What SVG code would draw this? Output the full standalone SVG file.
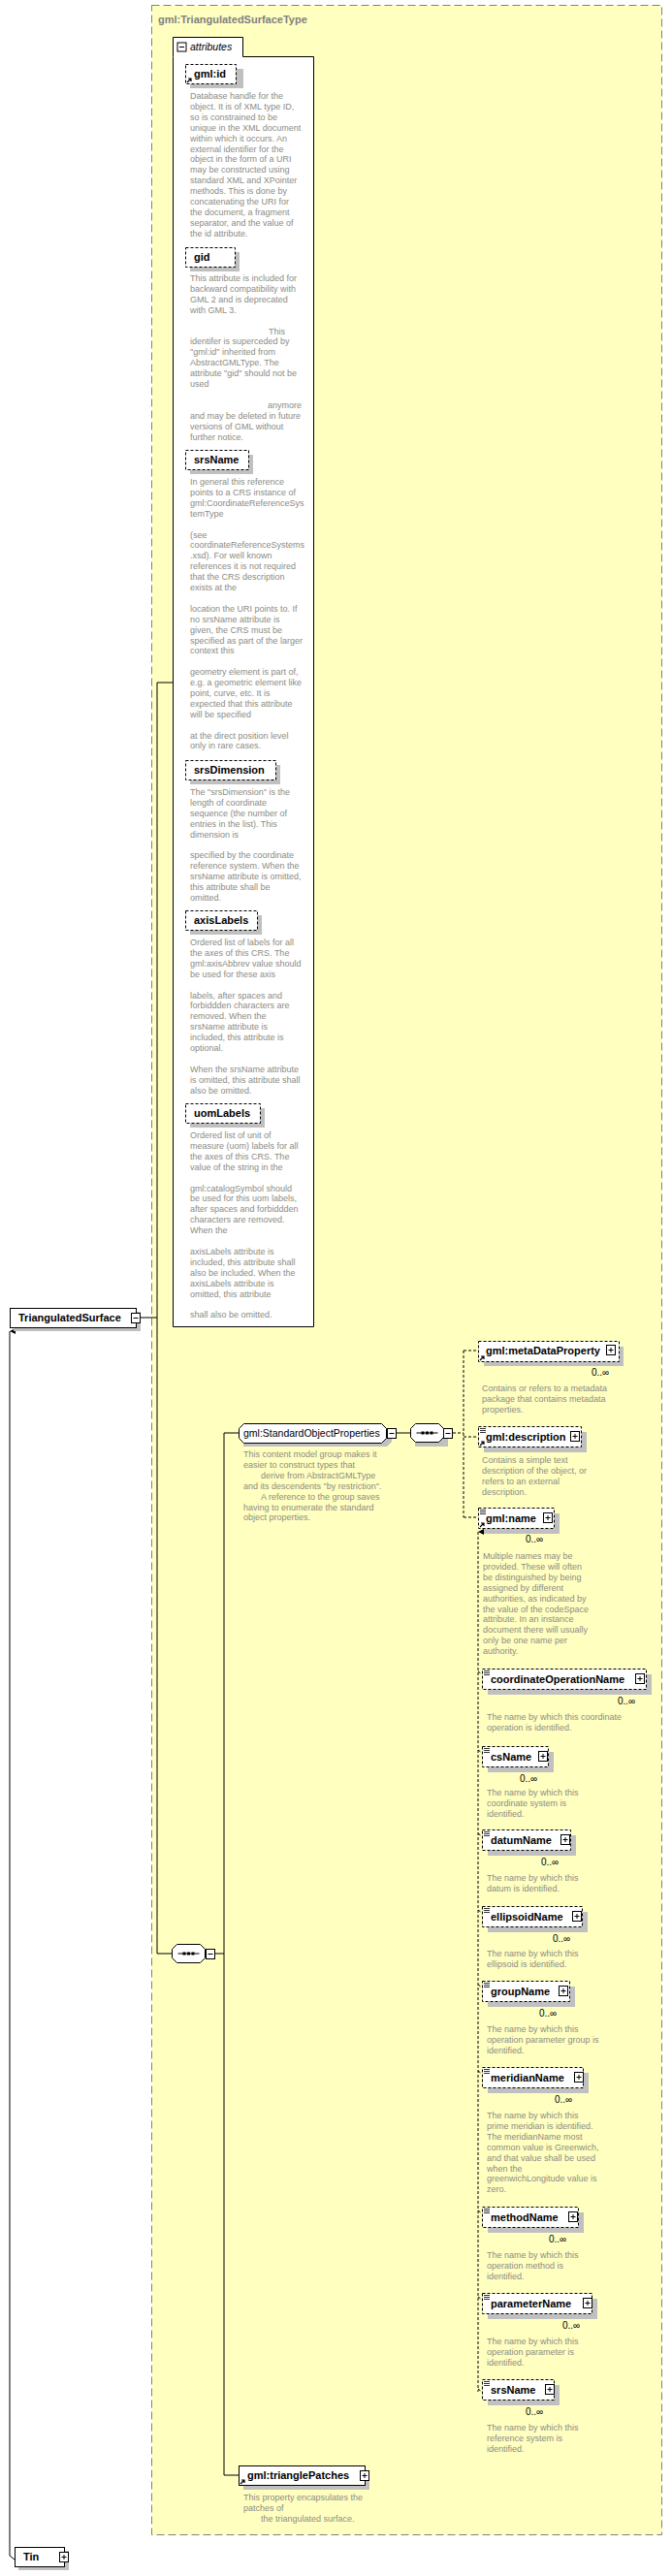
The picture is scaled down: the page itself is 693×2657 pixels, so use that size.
<svg xmlns="http://www.w3.org/2000/svg" width="693" height="2657" viewBox="0 0 693 2657">
<style>
text{font-family:"Liberation Sans",Arial,sans-serif}
.t{font-size:11px;font-weight:bold;fill:#000}
.g{font-size:10.5px;fill:#000}
.d{font-size:9px;fill:#8c8c84}
.o{font-size:10px;fill:#000}
.box{fill:#fff;stroke:#000;stroke-width:1}
.opt{fill:#fff;stroke:#000;stroke-width:1;stroke-dasharray:3,2}
.sh{fill:#c0c0c0}
.ln{stroke:#000;stroke-width:1;fill:none}
.dl{stroke:#000;stroke-width:1;fill:none;stroke-dasharray:3,2}
.pm{fill:#fff;stroke:#000;stroke-width:1}
</style>
<defs>
<marker id="up" markerWidth="6" markerHeight="6" refX="3" refY="0" orient="auto-start-reverse" markerUnits="userSpaceOnUse"><path d="M0,6 L3,0 L6,6 Z" fill="#000"/></marker>
<g id="plus"><rect class="pm" x="0" y="0" width="9" height="10"/><path d="M2,5H7M4.5,2.5V7.5" stroke="#000"/></g>
<g id="minus"><rect class="pm" x="0" y="0" width="9" height="10"/><path d="M2,5H7" stroke="#000"/></g>
<g id="ref"><path d="M0,5 L4,1 M1,1 H4 V4" stroke="#000" stroke-width="1.2" fill="none"/></g>
<g id="subst"><path d="M0,0.5H6M0,2.5H6M0,4.5H6" stroke="#000" stroke-width="0.8"/></g>
<g id="seq"><path class="box" d="M5,0H29L34,5V14L29,19H5L0,14V5Z"/><path d="M6,9.5H28" stroke="#000"/><rect x="11" y="8" width="3" height="3"/><rect x="15.5" y="8" width="3" height="3"/><rect x="20" y="8" width="3" height="3"/></g>
</defs>

<rect x="156.5" y="5.5" width="526" height="2609" fill="#ffffc0" stroke="#808080" stroke-dasharray="8,4"/>
<text x="163" y="24" style="font-size:11px;font-weight:bold;fill:#808080">gml:TriangulatedSurfaceType</text>

<g id="connectors">
<path class="ln" d="M145,1359H162M162,704V2015M162,704H178M162,2015H177M222,2015H231M231,1478V2553M231,1478H246M231,2553H246M408,1478H423"/>
<path class="dl" d="M467,1478H478M478,1393V1565M478,1393H493M478,1482H493M478,1565H493"/>
<path class="dl" d="M493,1580V2467" marker-start="url(#up)"/>
<path class="dl" d="M493,1724L497,1727M493,1805L497,1808M493,1891L497,1894M493,1970L497,1973M493,2047L497,2050M493,2136L497,2139M493,2280L497,2283M493,2369L497,2372M493,2464L497,2467"/>
<path class="ln" d="M10,1373V2636L15,2640" marker-start="url(#up)"/>
</g>

<g id="attributes">
<path class="box" d="M178.5,58.5V38.5H250.5V58.5H323.5V1368.5H178.5Z"/>
<rect x="183" y="44" width="9" height="9" class="pm"/><path d="M185,48.5H190" stroke="#000"/>
<text x="196" y="52" style="font-size:10.5px;font-style:italic">attributes</text>

<g id="attr-gmlid"><rect class="sh" x="196" y="71" width="55" height="20"/><rect class="opt" x="191.5" y="66.5" width="52" height="20"/><use href="#ref" x="193" y="80"/><text class="t" x="200" y="80">gml:id</text>
<text class="d"><tspan x="196" y="102">Database handle for the</tspan><tspan x="196" dy="10.9">object.  It is of XML type ID,</tspan><tspan x="196" dy="10.9">so is constrained to be</tspan><tspan x="196" dy="10.9">unique in the XML document</tspan><tspan x="196" dy="10.9">within which it occurs.  An</tspan><tspan x="196" dy="10.9">external identifier for the</tspan><tspan x="196" dy="10.9">object in the form of a URI</tspan><tspan x="196" dy="10.9">may be constructed using</tspan><tspan x="196" dy="10.9">standard XML and XPointer</tspan><tspan x="196" dy="10.9">methods.  This is done by</tspan><tspan x="196" dy="10.9">concatenating the URI for</tspan><tspan x="196" dy="10.9">the document, a fragment</tspan><tspan x="196" dy="10.9">separator, and the value of</tspan><tspan x="196" dy="10.9">the id attribute.</tspan></text></g>

<g id="attr-gid"><rect class="sh" x="196" y="260" width="51" height="20"/><rect class="opt" x="191.5" y="255.5" width="51" height="20"/><text class="t" x="200" y="269">gid</text>
<text class="d"><tspan x="196" y="290">This attribute is included for</tspan><tspan x="196" dy="10.9">backward compatibility with</tspan><tspan x="196" dy="10.9">GML 2 and is deprecated</tspan><tspan x="196" dy="10.9">with GML 3.</tspan><tspan x="277" dy="21.8">This</tspan><tspan x="196" dy="10.9">identifer is superceded by</tspan><tspan x="196" dy="10.9">"gml:id" inherited from</tspan><tspan x="196" dy="10.9">AbstractGMLType. The</tspan><tspan x="196" dy="10.9">attribute "gid" should not be</tspan><tspan x="196" dy="10.9">used</tspan><tspan x="276" dy="21.8">anymore</tspan><tspan x="196" dy="10.9">and may be deleted in future</tspan><tspan x="196" dy="10.9">versions of GML without</tspan><tspan x="196" dy="10.9">further notice.</tspan></text></g>

<g id="attr-srsName"><rect class="sh" x="196" y="469" width="65" height="20"/><rect class="opt" x="191.5" y="464.5" width="65" height="20"/><text class="t" x="200" y="478">srsName</text>
<text class="d"><tspan x="196" y="500">In general this reference</tspan><tspan x="196" dy="10.9">points to a CRS instance of</tspan><tspan x="196" dy="10.9">gml:CoordinateReferenceSys</tspan><tspan x="196" dy="10.9">temType</tspan><tspan x="196" dy="21.8">(see</tspan><tspan x="196" dy="10.9">coordinateReferenceSystems</tspan><tspan x="196" dy="10.9">.xsd). For well known</tspan><tspan x="196" dy="10.9">references it is not required</tspan><tspan x="196" dy="10.9">that the CRS description</tspan><tspan x="196" dy="10.9">exists at the</tspan><tspan x="196" dy="21.8">location the URI points to. If</tspan><tspan x="196" dy="10.9">no srsName attribute is</tspan><tspan x="196" dy="10.9">given, the CRS must be</tspan><tspan x="196" dy="10.9">specified as part of the larger</tspan><tspan x="196" dy="10.9">context this</tspan><tspan x="196" dy="21.8">geometry element is part of,</tspan><tspan x="196" dy="10.9">e.g. a geometric element like</tspan><tspan x="196" dy="10.9">point, curve, etc. It is</tspan><tspan x="196" dy="10.9">expected that this attribute</tspan><tspan x="196" dy="10.9">will be specified</tspan><tspan x="196" dy="21.8">at the direct position level</tspan><tspan x="196" dy="10.9">only in rare cases.</tspan></text></g>

<g id="attr-srsDimension"><rect class="sh" x="196" y="789" width="93" height="20"/><rect class="opt" x="191.5" y="784.5" width="93" height="20"/><text class="t" x="200" y="798">srsDimension</text>
<text class="d"><tspan x="196" y="820">The "srsDimension" is the</tspan><tspan x="196" dy="10.9">length of coordinate</tspan><tspan x="196" dy="10.9">sequence (the number of</tspan><tspan x="196" dy="10.9">entries in the list). This</tspan><tspan x="196" dy="10.9">dimension is</tspan><tspan x="196" dy="21.8">specified by the coordinate</tspan><tspan x="196" dy="10.9">reference system. When the</tspan><tspan x="196" dy="10.9">srsName attribute is omitted,</tspan><tspan x="196" dy="10.9">this attribute shall be</tspan><tspan x="196" dy="10.9">omitted.</tspan></text></g>

<g id="attr-axisLabels"><rect class="sh" x="196" y="944" width="74" height="20"/><rect class="opt" x="191.5" y="939.5" width="74" height="20"/><text class="t" x="200" y="953">axisLabels</text>
<text class="d"><tspan x="196" y="975">Ordered list of labels for all</tspan><tspan x="196" dy="10.9">the axes of this CRS. The</tspan><tspan x="196" dy="10.9">gml:axisAbbrev value should</tspan><tspan x="196" dy="10.9">be used for these axis</tspan><tspan x="196" dy="21.8">labels, after spaces and</tspan><tspan x="196" dy="10.9">forbiddden characters are</tspan><tspan x="196" dy="10.9">removed. When the</tspan><tspan x="196" dy="10.9">srsName attribute is</tspan><tspan x="196" dy="10.9">included, this attribute is</tspan><tspan x="196" dy="10.9">optional.</tspan><tspan x="196" dy="21.8">When the srsName attribute</tspan><tspan x="196" dy="10.9">is omitted, this attribute shall</tspan><tspan x="196" dy="10.9">also be omitted.</tspan></text></g>

<g id="attr-uomLabels"><rect class="sh" x="196" y="1143" width="77" height="20"/><rect class="opt" x="191.5" y="1138.5" width="77" height="20"/><text class="t" x="200" y="1152">uomLabels</text>
<text class="d"><tspan x="196" y="1174">Ordered list of unit of</tspan><tspan x="196" dy="10.9">measure (uom) labels for all</tspan><tspan x="196" dy="10.9">the axes of this CRS. The</tspan><tspan x="196" dy="10.9">value of the string in the</tspan><tspan x="196" dy="21.8">gml:catalogSymbol should</tspan><tspan x="196" dy="10.9">be used for this uom labels,</tspan><tspan x="196" dy="10.9">after spaces and forbiddden</tspan><tspan x="196" dy="10.9">characters are removed.</tspan><tspan x="196" dy="10.9">When the</tspan><tspan x="196" dy="21.8">axisLabels attribute is</tspan><tspan x="196" dy="10.9">included, this attribute shall</tspan><tspan x="196" dy="10.9">also be included. When the</tspan><tspan x="196" dy="10.9">axisLabels attribute is</tspan><tspan x="196" dy="10.9">omitted, this attribute</tspan><tspan x="196" dy="21.8">shall also be omitted.</tspan></text></g>
</g>

<g id="TriangulatedSurface"><rect class="sh" x="14" y="1353" width="131" height="20"/><rect class="box" x="10.5" y="1349.5" width="130" height="20"/><text class="t" x="19" y="1363">TriangulatedSurface</text><use href="#minus" x="135.5" y="1354.5"/></g>

<g id="seq-main"><use href="#seq" x="177.5" y="2005.5"/><use href="#minus" x="212.5" y="2010.5"/></g>

<g id="StandardObjectProperties"><path class="sh" d="M251,1473H399L404,1478V1487L399,1492H251L251,1473Z"/><path class="box" d="M251.5,1468.5H393.5L398.5,1473.5V1483.5L393.5,1488.5H251.5L246.5,1483.5V1473.5Z"/><text class="g" x="251" y="1482">gml:StandardObjectProperties</text><use href="#minus" x="399.5" y="1473.5"/>
<text class="d"><tspan x="251" y="1503">This content model group makes it</tspan><tspan x="251" dy="10.9">easier to construct types that</tspan><tspan x="269" dy="10.9">derive from AbstractGMLType</tspan><tspan x="251" dy="10.9">and its descendents "by restriction".</tspan><tspan x="269" dy="10.9">A reference to the group saves</tspan><tspan x="251" dy="10.9">having to enumerate the standard</tspan><tspan x="251" dy="10.9">object properties.</tspan></text></g>

<g id="seq-sop"><path class="sh" d="M428,1473H462V1492H428Z"/><use href="#seq" x="423.5" y="1468.5"/><use href="#minus" x="457.5" y="1473.5"/></g>

<g id="metaDataProperty"><rect class="sh" x="499" y="1389" width="144" height="20"/><rect class="opt" x="493.5" y="1383.5" width="145" height="21"/><use href="#ref" x="495" y="1398"/><text class="t" x="501" y="1397">gml:metaDataProperty</text><use href="#plus" x="625.5" y="1387.5"/><text class="o" x="610" y="1419">0..∞</text>
<text class="d"><tspan x="497" y="1435">Contains or refers to a metadata</tspan><tspan x="497" dy="10.9">package that contains metadata</tspan><tspan x="497" dy="10.9">properties.</tspan></text></g>

<g id="description"><rect class="sh" x="499" y="1477" width="106" height="21"/><rect class="opt" x="493.5" y="1471.5" width="106" height="21"/><use href="#ref" x="495" y="1486"/><use href="#subst" x="495" y="1473"/><text class="t" x="501" y="1486">gml:description</text><use href="#plus" x="588.5" y="1476.5"/>
<text class="d"><tspan x="497" y="1509">Contains a simple text</tspan><tspan x="497" dy="10.9">description of the object, or</tspan><tspan x="497" dy="10.9">refers to an external</tspan><tspan x="497" dy="10.9">description.</tspan></text></g>

<g id="name"><rect class="sh" x="499" y="1561" width="78" height="21"/><rect class="opt" x="493.5" y="1555.5" width="78" height="21"/><use href="#ref" x="495" y="1570"/><use href="#subst" x="495" y="1557"/><text class="t" x="501" y="1570">gml:name</text><use href="#plus" x="560.5" y="1560.5"/><text class="o" x="542" y="1591">0..∞</text>
<text class="d"><tspan x="498" y="1608">Multiple names may be</tspan><tspan x="498" dy="10.9">provided.  These will often</tspan><tspan x="498" dy="10.9">be distinguished by being</tspan><tspan x="498" dy="10.9">assigned by different</tspan><tspan x="498" dy="10.9">authorities, as indicated by</tspan><tspan x="498" dy="10.9">the value of the codeSpace</tspan><tspan x="498" dy="10.9">attribute.  In an instance</tspan><tspan x="498" dy="10.9">document there will usually</tspan><tspan x="498" dy="10.9">only be one name per</tspan><tspan x="498" dy="10.9">authority.</tspan></text></g>

<g id="coordinateOperationName"><rect class="sh" x="503" y="1727" width="169" height="21"/><rect class="opt" x="497.5" y="1721.5" width="169" height="21"/><use href="#subst" x="499" y="1723"/><text class="t" x="506" y="1736">coordinateOperationName</text><use href="#plus" x="655.5" y="1726.5"/><text class="o" x="637" y="1758">0..∞</text>
<text class="d"><tspan x="502" y="1774">The name by which this coordinate</tspan><tspan x="502" dy="10.9">operation is identified.</tspan></text></g>

<g id="csName"><rect class="sh" x="503" y="1807" width="68" height="21"/><rect class="opt" x="497.5" y="1801.5" width="68" height="21"/><use href="#subst" x="499" y="1803"/><text class="t" x="506" y="1816">csName</text><use href="#plus" x="555.5" y="1806.5"/><text class="o" x="536" y="1838">0..∞</text>
<text class="d"><tspan x="502" y="1852">The name by which this</tspan><tspan x="502" dy="10.9">coordinate system is</tspan><tspan x="502" dy="10.9">identified.</tspan></text></g>

<g id="datumName"><rect class="sh" x="503" y="1893" width="91" height="21"/><rect class="opt" x="497.5" y="1887.5" width="91" height="21"/><use href="#subst" x="499" y="1889"/><text class="t" x="506" y="1902">datumName</text><use href="#plus" x="578.5" y="1892.5"/><text class="o" x="558" y="1924">0..∞</text>
<text class="d"><tspan x="502" y="1940">The name by which this</tspan><tspan x="502" dy="10.9">datum is identified.</tspan></text></g>

<g id="ellipsoidName"><rect class="sh" x="503" y="1972" width="103" height="21"/><rect class="opt" x="497.5" y="1966.5" width="103" height="21"/><use href="#subst" x="499" y="1968"/><text class="t" x="506" y="1981">ellipsoidName</text><use href="#plus" x="590.5" y="1971.5"/><text class="o" x="570" y="2003">0..∞</text>
<text class="d"><tspan x="502" y="2018">The name by which this</tspan><tspan x="502" dy="10.9">ellipsoid is identified.</tspan></text></g>

<g id="groupName"><rect class="sh" x="503" y="2049" width="90" height="21"/><rect class="opt" x="497.5" y="2043.5" width="90" height="21"/><use href="#subst" x="499" y="2045"/><text class="t" x="506" y="2058">groupName</text><use href="#plus" x="576.5" y="2048.5"/><text class="o" x="556" y="2080">0..∞</text>
<text class="d"><tspan x="502" y="2096">The name by which this</tspan><tspan x="502" dy="10.9">operation parameter group is</tspan><tspan x="502" dy="10.9">identified.</tspan></text></g>

<g id="meridianName"><rect class="sh" x="503" y="2138" width="104" height="21"/><rect class="opt" x="497.5" y="2132.5" width="104" height="21"/><use href="#subst" x="499" y="2134"/><text class="t" x="506" y="2147">meridianName</text><use href="#plus" x="592.5" y="2137.5"/><text class="o" x="572" y="2169">0..∞</text>
<text class="d"><tspan x="502" y="2185">The name by which this</tspan><tspan x="502" dy="10.9">prime meridian is identified.</tspan><tspan x="502" dy="10.9">The meridianName most</tspan><tspan x="502" dy="10.9">common value is Greenwich,</tspan><tspan x="502" dy="10.9">and that value shall be used</tspan><tspan x="502" dy="10.9">when the</tspan><tspan x="502" dy="10.9">greenwichLongitude value is</tspan><tspan x="502" dy="10.9">zero.</tspan></text></g>

<g id="methodName"><rect class="sh" x="503" y="2282" width="99" height="21"/><rect class="opt" x="497.5" y="2276.5" width="99" height="21"/><use href="#subst" x="499" y="2278"/><text class="t" x="506" y="2291">methodName</text><use href="#plus" x="586.5" y="2281.5"/><text class="o" x="566" y="2313">0..∞</text>
<text class="d"><tspan x="502" y="2329">The name by which this</tspan><tspan x="502" dy="10.9">operation method is</tspan><tspan x="502" dy="10.9">identified.</tspan></text></g>

<g id="parameterName"><rect class="sh" x="503" y="2371" width="113" height="21"/><rect class="opt" x="497.5" y="2365.5" width="113" height="21"/><use href="#subst" x="499" y="2367"/><text class="t" x="506" y="2380">parameterName</text><use href="#plus" x="601.5" y="2370.5"/><text class="o" x="580" y="2402">0..∞</text>
<text class="d"><tspan x="502" y="2418">The name by which this</tspan><tspan x="502" dy="10.9">operation parameter is</tspan><tspan x="502" dy="10.9">identified.</tspan></text></g>

<g id="srsName"><rect class="sh" x="503" y="2460" width="74" height="21"/><rect class="opt" x="497.5" y="2454.5" width="74" height="21"/><use href="#subst" x="499" y="2456"/><text class="t" x="506" y="2469">srsName</text><use href="#plus" x="562.5" y="2459.5"/><text class="o" x="542" y="2491">0..∞</text>
<text class="d"><tspan x="502" y="2507">The name by which this</tspan><tspan x="502" dy="10.9">reference system is</tspan><tspan x="502" dy="10.9">identified.</tspan></text></g>

<g id="trianglePatches"><rect class="sh" x="251" y="2548" width="130" height="20"/><rect class="box" x="246.5" y="2543.5" width="130" height="20"/><use href="#ref" x="248" y="2557"/><text class="t" x="255" y="2557">gml:trianglePatches</text><use href="#plus" x="371.5" y="2548.5"/>
<text class="d"><tspan x="251" y="2579">This property encapsulates the</tspan><tspan x="251" dy="10.9">patches of</tspan><tspan x="269" dy="10.9">the triangulated surface.</tspan></text></g>

<g id="Tin"><rect class="sh" x="19" y="2631" width="52" height="20"/><rect class="box" x="15.5" y="2627.5" width="51" height="20"/><text class="t" x="24" y="2641">Tin</text><use href="#plus" x="61.5" y="2632.5"/></g>
</svg>
